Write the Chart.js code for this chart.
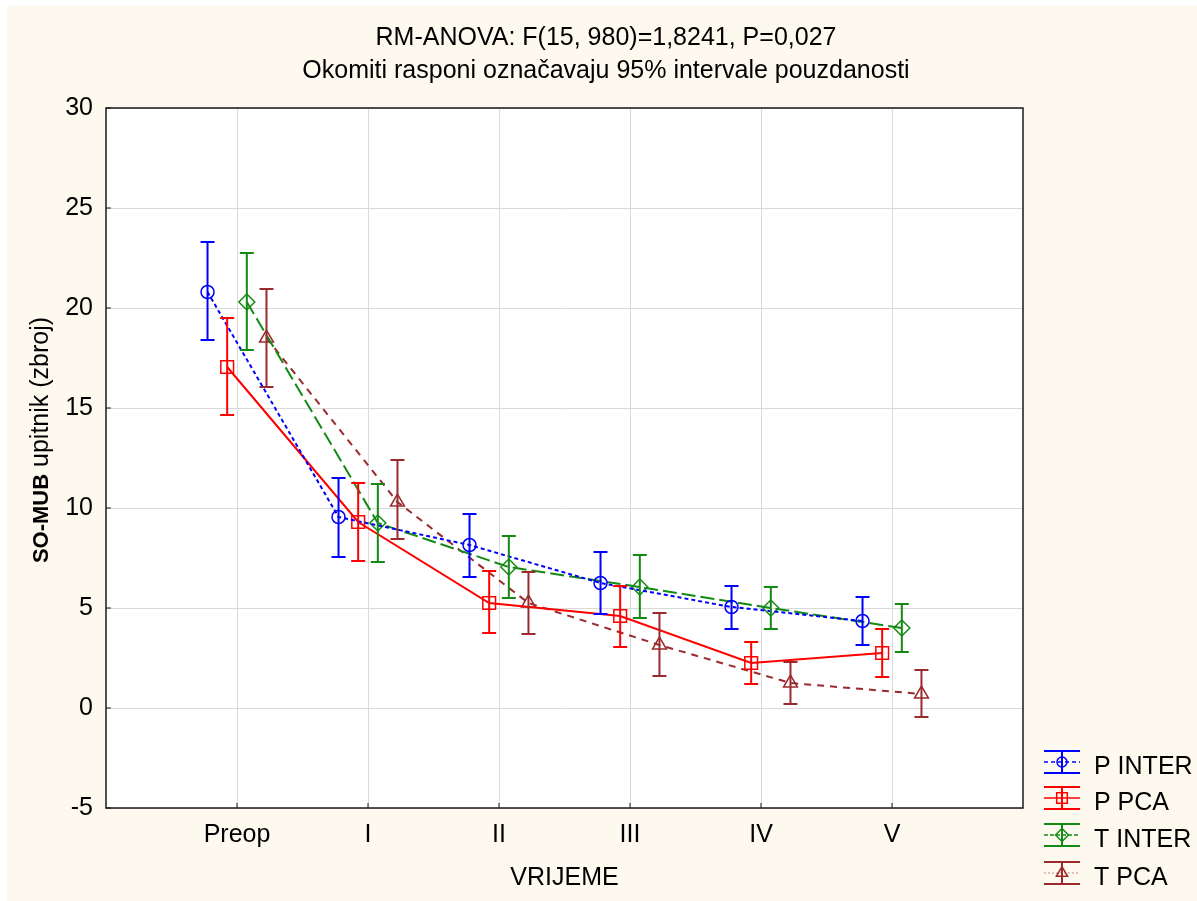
<!DOCTYPE html>
<html>

<head>
  <title>SO-MUB upitnik - RM-ANOVA</title>
  <style>
    body {
      margin: 0;
      background-color: #ffffff;
    }

    #wrap {
      width: 1197px;
      height: 901px;
    }
  </style>
  <script src="https://cdn.jsdelivr.net/npm/chart.js"></script>
</head>

<body>
  <div id="wrap">
    <canvas id="anovaChart" width="1197" height="901"></canvas>
  </div>

  <script>
    // values
    const categories = ['Preop', 'I', 'II', 'III', 'IV', 'V'];
    const seriesNames = ['P INTER', 'P PCA', 'T INTER', 'T PCA'];

    const pInter = [20.8, 9.55, 8.15, 6.25, 5.05, 4.35];
    const pInterLow = [18.4, 7.55, 6.55, 4.7, 3.95, 3.15];
    const pInterHigh = [23.3, 11.5, 9.7, 7.8, 6.1, 5.55];

    const pPca = [17.05, 9.3, 5.25, 4.6, 2.25, 2.75];
    const pPcaLow = [14.65, 7.35, 3.75, 3.05, 1.2, 1.55];
    const pPcaHigh = [19.5, 11.25, 6.85, 6.1, 3.3, 3.95];

    const tInter = [20.3, 9.25, 7.05, 6.05, 5.0, 4.0];
    const tInterLow = [17.9, 7.3, 5.5, 4.5, 3.95, 2.8];
    const tInterHigh = [22.75, 11.2, 8.6, 7.65, 6.05, 5.2];

    const tPca = [18.5, 10.3, 5.25, 3.15, 1.25, 0.7];
    const tPcaLow = [16.05, 8.45, 3.7, 1.6, 0.2, -0.45];
    const tPcaHigh = [20.95, 12.4, 6.8, 4.75, 2.3, 1.9];

    const yTicks = [-5, 0, 5, 10, 15, 20, 25, 30];

    const titleLines = ['RM-ANOVA: F(15, 980)=1,8241, P=0,027', 'Okomiti rasponi označavaju 95% intervale pouzdanosti'];

    // styling per series
    const colors = ['#0000ff', '#ff0000', '#138a13', '#9b2a2e'];
    const dashes = [[4, 3], [], [14, 5], [7, 6]];
    const markers = ['circle', 'rect', 'rectRot', 'triangle'];
    const markerSizes = [6.5, 9, 8, 8];
    const shifts = [-0.225, -0.075, 0.075, 0.225];

    const means = [pInter, pPca, tInter, tPca];
    const lows = [pInterLow, pPcaLow, tInterLow, tPcaLow];
    const highs = [pInterHigh, pPcaHigh, tInterHigh, tPcaHigh];

    const FONT = '"Liberation Sans", Arial, sans-serif';
    const FS = 25;

    const datasets = seriesNames.map((name, s) => ({
      label: name,
      data: means[s].map((v, i) => ({ x: i + shifts[s], y: v })),
      borderColor: colors[s],
      backgroundColor: 'transparent',
      borderWidth: 2,
      borderDash: dashes[s],
      pointStyle: markers[s],
      pointRadius: markerSizes[s],
      pointBorderWidth: 1.5,
      pointBorderColor: colors[s],
      pointBackgroundColor: 'transparent',
      tension: 0,
      errLow: lows[s],
      errHigh: highs[s],
    }));

    function drawMarker(ctx, style, r, x, y) {
      ctx.fillStyle = 'rgba(0,0,0,0)';
      if (Chart.helpers && Chart.helpers.drawPoint) {
        Chart.helpers.drawPoint(ctx, { pointStyle: style, radius: r, rotation: 0, borderWidth: 1.5 }, x, y);
        return;
      }
      ctx.beginPath();
      ctx.arc(x, y, r, 0, Math.PI * 2);
      ctx.stroke();
    }

    const frame = {
      id: 'frame',
      beforeDraw(chart) {
        const { ctx, chartArea: a } = chart;
        ctx.save();
        ctx.fillStyle = '#ffffff';
        ctx.fillRect(0, 0, chart.width, chart.height);
        ctx.fillStyle = '#fdf9ee';
        ctx.fillRect(7, 6, chart.width - 7, chart.height - 6);
        ctx.fillStyle = '#ffffff';
        ctx.fillRect(a.left, a.top, a.right - a.left, a.bottom - a.top);
        ctx.restore();
      },
      afterDatasetsDraw(chart) {
        const { ctx, scales: { x, y } } = chart;
        // error bars
        ctx.save();
        chart.data.datasets.forEach((ds) => {
          ctx.strokeStyle = ds.borderColor;
          ctx.lineWidth = 2;
          ctx.setLineDash([]);
          ds.data.forEach((p, i) => {
            const px = x.getPixelForValue(p.x);
            const top = y.getPixelForValue(ds.errHigh[i]);
            const bot = y.getPixelForValue(ds.errLow[i]);
            ctx.beginPath();
            ctx.moveTo(px, top);
            ctx.lineTo(px, bot);
            ctx.moveTo(px - 7, top);
            ctx.lineTo(px + 7, top);
            ctx.moveTo(px - 7, bot);
            ctx.lineTo(px + 7, bot);
            ctx.stroke();
          });
        });
        ctx.restore();
      },
      afterDraw(chart) {
        const { ctx, chartArea: a, scales: { x, y } } = chart;
        ctx.save();
        // plot frame
        ctx.strokeStyle = '#1a1a1a';
        ctx.lineWidth = 1.5;
        ctx.setLineDash([]);
        ctx.strokeRect(a.left, a.top, a.right - a.left, a.bottom - a.top);
        // inward ticks
        ctx.lineWidth = 1;
        ctx.beginPath();
        categories.forEach((c, i) => {
          const px = x.getPixelForValue(i);
          ctx.moveTo(px, a.bottom);
          ctx.lineTo(px, a.bottom - 5);
        });
        yTicks.forEach((v) => {
          const py = y.getPixelForValue(v);
          ctx.moveTo(a.left, py);
          ctx.lineTo(a.left + 5, py);
        });
        ctx.stroke();

        // title
        ctx.fillStyle = '#000000';
        ctx.font = FS + 'px ' + FONT;
        ctx.textAlign = 'center';
        ctx.textBaseline = 'middle';
        ctx.fillText(titleLines[0], 606, 38);
        ctx.fillText(titleLines[1], 606, 71);

        // y axis title with bold prefix
        const boldPart = 'SO-MUB';
        const restPart = ' upitnik (zbroj)';
        ctx.font = 'bold 22px ' + FONT;
        const wBold = ctx.measureText(boldPart).width;
        ctx.font = FS + 'px ' + FONT;
        const wRest = ctx.measureText(restPart).width;
        ctx.translate(41, 440);
        ctx.rotate(-Math.PI / 2);
        ctx.textAlign = 'left';
        ctx.textBaseline = 'middle';
        const startX = -(wBold + wRest) / 2;
        ctx.font = 'bold 22px ' + FONT;
        ctx.fillText(boldPart, startX, 1);
        ctx.font = FS + 'px ' + FONT;
        ctx.fillText(restPart, startX + wBold, 0);
        ctx.setTransform(1, 0, 0, 1, 0, 0);

        // legend
        const lx = 1044, lw = 36;
        const rows = [762, 798, 835, 873];
        chart.data.datasets.forEach((ds, s) => {
          const cy = rows[s];
          const cx = lx + lw / 2;
          ctx.strokeStyle = ds.borderColor;
          ctx.lineWidth = 2;
          ctx.setLineDash([]);
          ctx.beginPath();
          ctx.moveTo(lx, cy - 11);
          ctx.lineTo(lx + lw, cy - 11);
          ctx.moveTo(lx, cy + 11);
          ctx.lineTo(lx + lw, cy + 11);
          ctx.moveTo(cx, cy - 11);
          ctx.lineTo(cx, cy + 11);
          ctx.stroke();
          ctx.lineWidth = 1.5;
          ctx.setLineDash(s === 3 ? [2, 2] : s === 2 ? [4, 2] : ds.borderDash);
          ctx.globalAlpha = s === 3 ? 0.35 : 1;
          ctx.beginPath();
          ctx.moveTo(lx, cy);
          ctx.lineTo(lx + lw, cy);
          ctx.stroke();
          ctx.globalAlpha = 1;
          ctx.setLineDash([]);
          drawMarker(ctx, ds.pointStyle, ds.pointRadius - 1.5, cx, cy);
          ctx.fillStyle = '#000000';
          ctx.font = FS + 'px ' + FONT;
          ctx.textAlign = 'left';
          ctx.textBaseline = 'middle';
          ctx.fillText(ds.label, 1094, cy + 5);
        });
        ctx.restore();
      },
    };

    new Chart(document.getElementById('anovaChart').getContext('2d'), {
      type: 'line',
      data: { datasets: datasets },
      plugins: [frame],
      options: {
        responsive: false,
        animation: false,
        layout: { padding: { top: 108, right: 174, left: 0, bottom: 0 } },
        plugins: {
          legend: { display: false },
          title: { display: false },
          tooltip: { enabled: false },
        },
        scales: {
          x: {
            type: 'linear',
            min: -1,
            max: 6,
            afterFit: (s) => { s.height = 93; },
            afterBuildTicks: (s) => { s.ticks = [-1, 0, 1, 2, 3, 4, 5, 6].map(v => ({ value: v })); },
            ticks: {
              stepSize: 1,
              autoSkip: false,
              maxRotation: 0,
              padding: 12,
              color: '#000000',
              font: { family: FONT, size: FS },
              callback: (v) => categories[v] || '',
            },
            grid: {
              drawTicks: false,
              lineWidth: 1,
              color: (c) => (c.tick && c.tick.value >= 0 && c.tick.value <= 5 ? '#d9d9d9' : 'transparent'),
            },
            border: { display: false },
            title: {
              display: true,
              text: 'VRIJEME',
              color: '#000000',
              font: { family: FONT, size: FS },
              padding: { top: 0, bottom: 8 },
            },
          },
          y: {
            min: -5,
            max: 30,
            afterFit: (s) => { s.width = 106; },
            ticks: {
              stepSize: 5,
              padding: 13,
              color: '#000000',
              font: { family: FONT, size: FS },
            },
            grid: { drawTicks: false, color: '#d9d9d9', lineWidth: 1 },
            border: { display: false },
          },
        },
      },
    });
  </script>
</body>

</html>
